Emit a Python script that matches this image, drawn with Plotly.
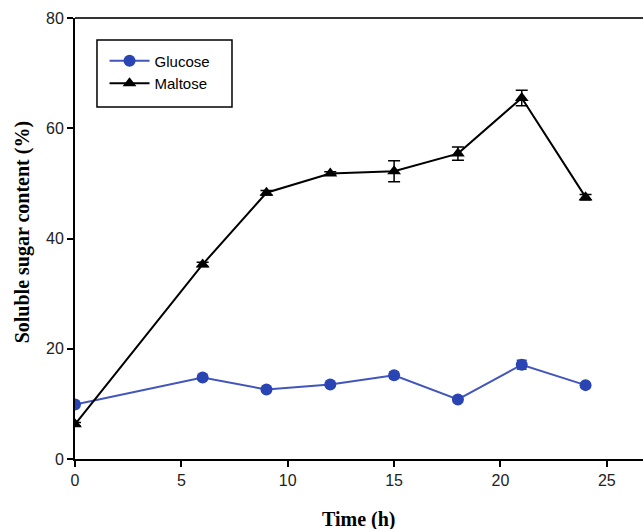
import plotly.graph_objects as go

time_h = [0, 6, 9, 12, 15, 18, 21, 24]
glucose = [9.9, 14.8, 12.6, 13.5, 15.2, 10.8, 17.1, 13.4]
glucose_err = [0.3, 0.4, 0.3, 0.3, 0.6, 0.3, 0.8, 0.3]
maltose = [6.3, 35.3, 48.3, 51.8, 52.2, 55.4, 65.5, 47.5]
maltose_err = [0.3, 0.4, 0.4, 0.3, 1.9, 1.2, 1.4, 0.5]

fig = go.Figure()
fig.add_trace(go.Scatter(
    x=time_h, y=glucose, name="Glucose", mode="lines+markers",
    line=dict(color="#4155BB", width=2),
    marker=dict(symbol="circle", size=12, color="#2A45B3"),
    error_y=dict(type="data", array=glucose_err, color="#2A45B3", thickness=1.5, width=5),
))
fig.add_trace(go.Scatter(
    x=time_h, y=maltose, name="Maltose", mode="lines+markers",
    line=dict(color="black", width=2),
    marker=dict(symbol="triangle-up", size=12, color="black"),
    error_y=dict(type="data", array=maltose_err, color="black", thickness=1.5, width=6),
))

axis_font = dict(family="Liberation Sans, Arial, sans-serif", size=16, color="#222")
title_font = dict(family="Liberation Serif, Times New Roman, serif", size=20, color="black")

fig.update_layout(
    width=643, height=529,
    margin=dict(l=75, r=0, t=18, b=70, autoexpand=False),
    paper_bgcolor="white", plot_bgcolor="white",
    showlegend=True,
    legend=dict(
        x=0.052, y=0.94, xanchor="left", yanchor="top",
        borderwidth=0, bgcolor="rgba(0,0,0,0)",
        font=dict(family="Liberation Sans, Arial, sans-serif", size=15, color="black"),
        itemwidth=40, tracegroupgap=0,
    ),
    xaxis=dict(
        range=[0, 26.7], tickvals=[0, 5, 10, 15, 20, 25],
        showgrid=False, zeroline=False, showline=True, linecolor="black", linewidth=2,
        ticks="outside", ticklen=6, tickwidth=2, tickcolor="black",
        tickfont=axis_font, automargin=False,
    ),
    yaxis=dict(
        range=[0, 80], tickvals=[0, 20, 40, 60, 80],
        showgrid=False, zeroline=False, showline=True, linecolor="black", linewidth=2,
        ticks="outside", ticklen=6, tickwidth=2, tickcolor="black",
        tickfont=axis_font, automargin=False,
    ),
)
fig.add_annotation(text="<b>Time (h)</b>", xref="paper", yref="paper",
                   x=0.5, y=0, yshift=-60, xanchor="center", yanchor="middle",
                   showarrow=False, font=title_font)
fig.add_annotation(text="<b>Soluble sugar content (%)</b>", xref="paper", yref="paper",
                   x=0, xshift=-53, y=0.514, xanchor="center", yanchor="middle",
                   textangle=-90, showarrow=False, font=title_font)
# top frame line
fig.add_shape(type="line", xref="paper", yref="paper", x0=0, x1=1, y0=1, y1=1,
              line=dict(color="#333", width=2))
# legend frame
fig.add_shape(type="rect", xref="paper", yref="paper", x0=0.0387, x1=0.2764, y0=0.798, y1=0.950,
              line=dict(color="black", width=1.5), layer="below")

fig.write_html("out.html", config={"displayModeBar": False},
               post_script="document.body.style.margin='0';document.body.style.overflow='hidden';")
